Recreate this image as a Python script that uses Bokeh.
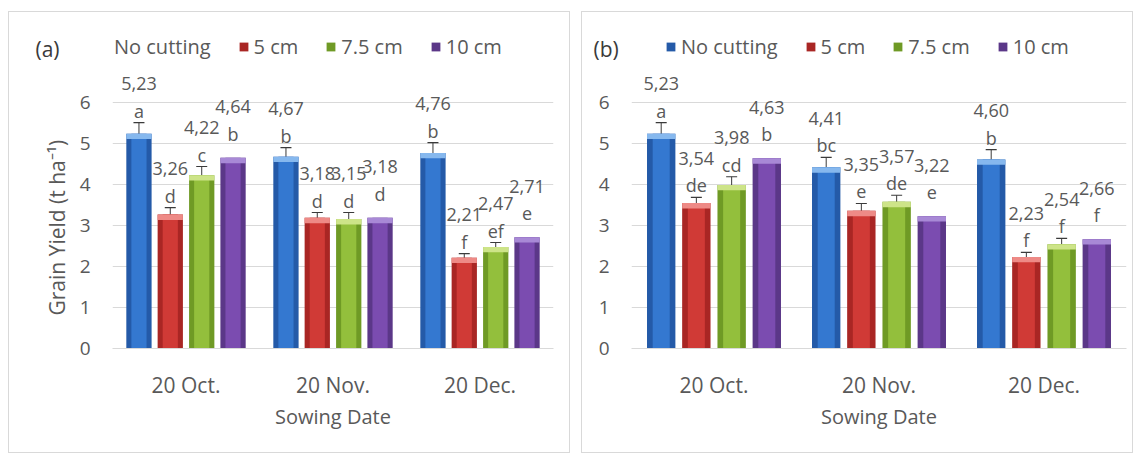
from bokeh.plotting import figure
from bokeh.layouts import row, column
from bokeh.models import (Range1d, FixedTicker, Whisker, TeeHead, ColumnDataSource,
                          Legend, LegendItem, Title, Spacer)
from bokeh.core.properties import value
from bokeh.embed import file_html
from bokeh.resources import INLINE

# ---------------- data ----------------
categories = ["20 Oct.", "20 Nov.", "20 Dec."]
series = ["No cutting", "5 cm", "7.5 cm", "10 cm"]
y_ticks = [0, 1, 2, 3, 4, 5, 6]

# panel (a)
a_no_cutting = [5.23, 4.67, 4.76]
a_5cm = [3.26, 3.18, 2.21]
a_7_5cm = [4.22, 3.15, 2.47]
a_10cm = [4.64, 3.18, 2.71]
a_err_no_cutting = [0.27, 0.22, 0.25]
a_err_5cm = [0.17, 0.13, 0.10]
a_err_7_5cm = [0.21, 0.16, 0.11]
a_let_no_cutting = ["a", "b", "b"]
a_let_5cm = ["d", "d", "f"]
a_let_7_5cm = ["c", "d", "ef"]
a_let_10cm = ["b", "d", "e"]

# panel (b)
b_no_cutting = [5.23, 4.41, 4.60]
b_5cm = [3.54, 3.35, 2.23]
b_7_5cm = [3.98, 3.57, 2.54]
b_10cm = [4.63, 3.22, 2.66]
b_err_no_cutting = [0.27, 0.24, 0.24]
b_err_5cm = [0.14, 0.18, 0.11]
b_err_7_5cm = [0.20, 0.16, 0.14]
b_let_no_cutting = ["a", "bc", "b"]
b_let_5cm = ["de", "e", "f"]
b_let_7_5cm = ["cd", "de", "f"]
b_let_10cm = ["b", "e", "f"]

# ---------------- style ----------------
FONT = "Open Sans"
TXT = "#595959"
GRID = "#d9d9d9"
edge_cols = ["#245aa8", "#a92624", "#6f9a25", "#5b3788"]
main_cols = ["#3478d0", "#d03a36", "#93bf3c", "#7b4cb0"]
cap_cols = ["#86b8ee", "#ee8a86", "#cde488", "#a889d6"]
offsets = [-0.32, -0.107, 0.107, 0.32]
BW = 0.172
HEIGHT = 442
TOP_B = 18
BOT_B = HEIGHT - 336
PX_PER_UNIT = (348 - 101.5) / 6.0


def make_panel(vals, errs, lets, tag, width, left, right, legend_x, tag_off, blank_first):
    frame_h = HEIGHT - TOP_B - BOT_B
    ymax = frame_h / PX_PER_UNIT
    p = figure(width=width, height=HEIGHT, output_backend="svg", toolbar_location=None,
               x_range=Range1d(-0.5, 2.5), y_range=Range1d(0, ymax),
               min_border_left=left, min_border_right=right,
               min_border_top=TOP_B, min_border_bottom=BOT_B,
               styles={"border": "1px solid #d9d9d9"})
    p.outline_line_color = None
    p.background_fill_color = "white"
    p.xgrid.grid_line_color = None
    p.ygrid.grid_line_color = GRID
    p.ygrid.ticker = FixedTicker(ticks=y_ticks)

    p.yaxis.ticker = FixedTicker(ticks=y_ticks)
    p.yaxis.axis_line_color = None
    p.yaxis.major_tick_line_color = None
    p.yaxis.minor_tick_line_color = None
    p.yaxis.major_label_standoff = 16
    p.yaxis.major_label_text_font = FONT
    p.yaxis.major_label_text_font_size = "19px"
    p.yaxis.major_label_text_color = TXT

    p.xaxis.ticker = FixedTicker(ticks=[0, 1, 2])
    p.xaxis.major_label_overrides = {i: c for i, c in enumerate(categories)}
    p.xaxis.axis_line_color = GRID
    p.xaxis.major_tick_line_color = None
    p.xaxis.minor_tick_line_color = None
    p.xaxis.major_label_standoff = 16
    p.xaxis.major_label_text_font = FONT
    p.xaxis.major_label_text_font_size = "21px"
    p.xaxis.major_label_text_color = TXT
    p.xaxis.axis_label = "Sowing Date"
    p.xaxis.axis_label_standoff = 1
    p.xaxis.axis_label_text_font = FONT
    p.xaxis.axis_label_text_font_size = "20px"
    p.xaxis.axis_label_text_font_style = "normal"
    p.xaxis.axis_label_text_color = TXT

    xs = [0, 1, 2]
    bar_renderers = []
    for k in range(4):
        x = [xi + offsets[k] for xi in xs]
        src = ColumnDataSource(dict(x=x, top=vals[k]))
        r = p.vbar(x="x", top="top", bottom=0, width=BW, source=src,
                   fill_color=edge_cols[k], line_color=None)
        bar_renderers.append(r)
        p.vbar(x="x", top="top", bottom=0, width=BW * 0.6, source=src,
               fill_color=main_cols[k], line_color=None)
        cap_src = ColumnDataSource(dict(x=x, top=vals[k],
                                        bot=[v - 0.13 for v in vals[k]]))
        p.vbar(x="x", top="top", bottom="bot", width=BW, source=cap_src,
               fill_color=cap_cols[k], line_color=None)

        e = errs[k] if k < 3 else [0, 0, 0]
        upper = [v + d for v, d in zip(vals[k], e)]
        if k < 3:
            wsrc = ColumnDataSource(dict(base=x, upper=upper,
                                         lower=[v - d for v, d in zip(vals[k], e)]))
            w = Whisker(base="base", upper="upper", lower="lower", source=wsrc,
                        line_color="#3a3a3a", line_width=1,
                        upper_head=TeeHead(size=11, line_color="#3a3a3a", line_width=1.2),
                        lower_head=TeeHead(size=11, line_color="#3a3a3a", line_width=1.2))
            p.add_layout(w)
        off_l = -12 if k < 3 else -24
        lsrc = ColumnDataSource(dict(x=x, y=upper, let=lets[k],
                                     val=[f"{v:.2f}".replace(".", ",") for v in vals[k]]))
        p.text(x="x", y="y", text="let", source=lsrc, y_offset=off_l,
               text_align="center", text_baseline="middle",
               text_font=value(FONT), text_font_size="18px", text_color=TXT)
        p.text(x="x", y="y", text="val", source=lsrc, y_offset=off_l - 27,
               text_align="center", text_baseline="middle",
               text_font=value(FONT), text_font_size="18px", text_color=TXT)

    items = []
    for k in range(4):
        if k == 0 and blank_first:
            dummy = p.vbar(x=[], top=[], width=0.1, fill_alpha=0, line_alpha=0)
            items.append(LegendItem(label=series[k], renderers=[dummy]))
        else:
            items.append(LegendItem(label=series[k], renderers=[bar_renderers[k]]))
    leg = Legend(items=items, orientation="horizontal",
                 location=(legend_x, 300 - 12), border_line_color=None,
                 background_fill_alpha=0, padding=0, margin=0, spacing=27,
                 glyph_width=11, glyph_height=11, label_standoff=5,
                 label_text_font=FONT, label_text_font_size="20px",
                 label_text_color=TXT, label_height=24)
    p.add_layout(leg, "center")

    # panel tag "(a)" / "(b)" as a title pulled down beside the legend
    p.add_layout(Title(text=tag, align="left", offset=tag_off, standoff=-64,
                       vertical_align="bottom", text_font=FONT, text_font_size="21px",
                       text_font_style="normal", text_color="#3a3a3a"), "above")
    return p


pa = make_panel([a_no_cutting, a_5cm, a_7_5cm, a_10cm],
                [a_err_no_cutting, a_err_5cm, a_err_7_5cm],
                [a_let_no_cutting, a_let_5cm, a_let_7_5cm, a_let_10cm],
                "(a)", 562, 103, 18, -14, -77, True)
pb = make_panel([b_no_cutting, b_5cm, b_7_5cm, b_10cm],
                [b_err_no_cutting, b_err_5cm, b_err_7_5cm],
                [b_let_no_cutting, b_let_5cm, b_let_7_5cm, b_let_10cm],
                "(b)", 552, 49, 8, 34, -38, False)

pa.add_layout(Title(text="Grain Yield (t ha⁻¹)", align="left", offset=33, standoff=12,
                    text_font=FONT, text_font_size="21px", text_font_style="normal",
                    text_color=TXT), "left")

layout = column(Spacer(height=11),
                row(Spacer(width=8), pa, Spacer(width=11), pb))
open("out.html", "w").write(file_html(layout, INLINE))
